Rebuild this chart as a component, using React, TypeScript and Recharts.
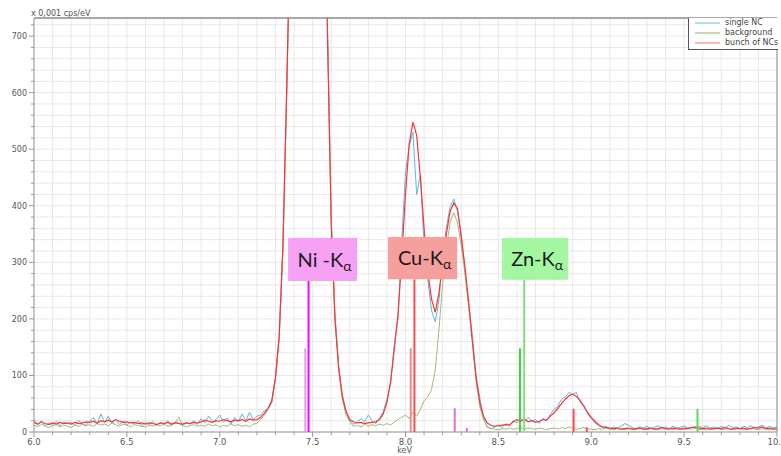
import React from 'react';
import {
  LineChart,
  Line,
  XAxis,
  YAxis,
  CartesianGrid,
  ReferenceLine,
  ReferenceArea,
  Legend
} from 'recharts';

// channel energies, keV
const energy = [
  6.0, 6.02, 6.04, 6.06, 6.08, 6.1, 6.12, 6.14, 6.16, 6.18,
  6.2, 6.22, 6.24, 6.26, 6.28, 6.3, 6.32, 6.34, 6.36, 6.38,
  6.4, 6.42, 6.44, 6.46, 6.48, 6.5, 6.52, 6.54, 6.56, 6.58,
  6.6, 6.62, 6.64, 6.66, 6.68, 6.7, 6.72, 6.74, 6.76, 6.78,
  6.8, 6.82, 6.84, 6.86, 6.88, 6.9, 6.92, 6.94, 6.96, 6.98,
  7.0, 7.02, 7.04, 7.06, 7.08, 7.1, 7.12, 7.14, 7.16, 7.18,
  7.2, 7.22, 7.24, 7.26, 7.28, 7.3, 7.32, 7.34, 7.36, 7.38,
  7.4, 7.42, 7.44, 7.46, 7.48, 7.5, 7.52, 7.54, 7.56, 7.58,
  7.6, 7.62, 7.64, 7.66, 7.68, 7.7, 7.72, 7.74, 7.76, 7.78,
  7.8, 7.82, 7.84, 7.86, 7.88, 7.9, 7.92, 7.94, 7.96, 7.98,
  8.0, 8.02, 8.04, 8.06, 8.08, 8.1, 8.12, 8.14, 8.16, 8.18,
  8.2, 8.22, 8.24, 8.26, 8.28, 8.3, 8.32, 8.34, 8.36, 8.38,
  8.4, 8.42, 8.44, 8.46, 8.48, 8.5, 8.52, 8.54, 8.56, 8.58,
  8.6, 8.62, 8.64, 8.66, 8.68, 8.7, 8.72, 8.74, 8.76, 8.78,
  8.8, 8.82, 8.84, 8.86, 8.88, 8.9, 8.92, 8.94, 8.96, 8.98,
  9.0, 9.02, 9.04, 9.06, 9.08, 9.1, 9.12, 9.14, 9.16, 9.18,
  9.2, 9.22, 9.24, 9.26, 9.28, 9.3, 9.32, 9.34, 9.36, 9.38,
  9.4, 9.42, 9.44, 9.46, 9.48, 9.5, 9.52, 9.54, 9.56, 9.58,
  9.6, 9.62, 9.64, 9.66, 9.68, 9.7, 9.72, 9.74, 9.76, 9.78,
  9.8, 9.82, 9.84, 9.86, 9.88, 9.9, 9.92, 9.94, 9.96, 9.98,
  10.0
];

// x 0,001 cps/eV
const singleNC = [
  22, 12, 20, 10, 16, 13, 19, 11, 18, 14,
  17, 11, 20, 14, 12, 19, 26, 14, 32, 17,
  28, 15, 22, 13, 19, 12, 18, 14, 20, 11,
  17, 13, 19, 12, 16, 14, 20, 12, 18, 15,
  11, 17, 14, 20, 13, 24, 16, 28, 18, 22,
  30, 17, 25, 14, 26, 18, 32, 20, 35, 22,
  28, 30, 38, 40, 52, 95, 165, 320, 590, 890,
  1290, 1690, 2080, 2390, 2540, 2390, 2090, 1690, 1140, 720,
  380, 210, 118, 66, 38, 20, 14, 17, 24, 18,
  30, 19, 15, 24, 36, 58, 85, 155, 200, 340,
  460, 505, 530, 420, 455, 330, 270, 215, 195, 232,
  310, 362, 398, 412, 390, 350, 285, 225, 170, 100,
  60, 25, 8, 6, 9, 12, 8, 15, 11, 20,
  16, 24, 18, 26, 20, 22, 15, 24, 20, 32,
  40, 46, 58, 62, 70, 66, 70, 52, 48, 32,
  24, 16, 11, 8, 10, 6, 9, 7, 10, 15,
  12, 8, 6, 9, 7, 10, 6, 8, 11, 7,
  9, 6, 10, 7, 8, 11, 7, 9, 6, 10,
  8, 11, 7, 9, 6, 10, 7, 12, 8, 9,
  6, 10, 8, 11, 7, 9, 12, 7, 10, 8,
  9
];

const background = [
  12, 9, 14, 10, 8, 11, 13, 9, 12, 10,
  8, 12, 10, 14, 11, 13, 10, 15, 12, 14,
  11, 16, 13, 10, 14, 12, 9, 13, 11, 10,
  9, 12, 10, 13, 11, 14, 10, 12, 16, 26,
  12, 9, 11, 13, 10, 12, 10, 14, 11, 13,
  9, 12, 10, 14, 11, 13, 10, 12, 9, 14,
  15, 22, 30, 40, 54, 95, 168, 325, 595, 890,
  1290, 1690, 2090, 2390, 2540, 2390, 2090, 1690, 1140, 710,
  375, 205, 115, 58, 30, 18, 10, 12, 9, 14,
  10, 13, 11, 14, 12, 15, 12, 18, 22, 26,
  30, 24, 35, 28, 40, 55, 62, 75, 110, 180,
  262, 325, 370, 388, 370, 330, 280, 222, 160, 90,
  45, 22, 10, 6, 5, 4, 6, 5, 7, 5,
  6, 8, 5, 7, 6, 5, 7, 6, 4, 6,
  7, 5, 8, 6, 9, 7, 5, 6, 8, 6,
  5, 4, 6, 5, 7, 5, 4, 6, 5, 4,
  6, 5, 4, 7, 5, 4, 6, 5, 4, 6,
  5, 7, 4, 6, 5, 4, 6, 5, 7, 4,
  5, 4, 6, 5, 7, 4, 5, 6, 4, 5,
  6, 4, 5, 7, 5, 4, 6, 5, 4, 6,
  5
];

const bunchNCs = [
  17, 14, 18, 15, 13, 16, 14, 17, 15, 16,
  14, 17, 15, 16, 18, 17, 19, 16, 20, 18,
  21, 18, 22, 19, 17, 18, 16, 17, 15, 16,
  14, 16, 15, 13, 16, 15, 17, 14, 16, 15,
  14, 16, 15, 17, 16, 18, 21, 19, 17, 20,
  19, 22, 20, 18, 21, 20, 22, 19, 23, 21,
  22, 26, 33, 42, 55, 97, 170, 330, 600, 900,
  1300, 1700, 2100, 2400, 2550, 2400, 2100, 1700, 1150, 700,
  370, 200, 112, 62, 36, 22, 18, 16, 17, 15,
  16, 17, 18, 22, 32, 52, 90, 148, 210, 310,
  420, 510, 548, 525, 450, 360, 285, 235, 212, 245,
  300, 350, 390, 405, 395, 345, 292, 230, 160, 95,
  52, 28, 16, 12, 10, 11, 12, 13, 12, 18,
  22, 19, 23, 18, 20, 17, 19, 22, 21, 28,
  34, 42, 50, 58, 64, 67, 63, 56, 45, 35,
  26, 19, 13, 9, 8, 7, 6, 7, 5, 6,
  7, 5, 6, 7, 5, 6, 7, 5, 6, 8,
  6, 5, 7, 6, 5, 7, 6, 8, 9, 7,
  6, 7, 5, 6, 7, 6, 8, 6, 5, 7,
  6, 7, 5, 6, 8, 7, 9, 6, 7, 5,
  6
];

const xTicks = [
  6.0, 6.1, 6.2, 6.3, 6.4, 6.5, 6.6, 6.7, 6.8, 6.9,
  7.0, 7.1, 7.2, 7.3, 7.4, 7.5, 7.6, 7.7, 7.8, 7.9,
  8.0, 8.1, 8.2, 8.3, 8.4, 8.5, 8.6, 8.7, 8.8, 8.9,
  9.0, 9.1, 9.2, 9.3, 9.4, 9.5, 9.6, 9.7, 9.8, 9.9, 10.0
];
const yTicks = [
  0, 20, 40, 60, 80, 100, 120, 140, 160, 180, 200, 220, 240, 260, 280,
  300, 320, 340, 360, 380, 400, 420, 440, 460, 480, 500, 520, 540, 560,
  580, 600, 620, 640, 660, 680, 700, 720
];

// element lines: energy (keV) and marker height
const lineKeV = [7.478, 7.461, 8.048, 8.028, 8.639, 8.616, 8.265, 8.33, 8.905, 8.976, 9.572];
const lineHeight = [267, 148, 270, 148, 269, 148, 42, 7, 41, 8, 41];
const lineColors = ['#ff00ff', '#d9a0e4', '#ff4b4b', '#e98d88', '#7fe07f', '#45c845', '#e070e0', '#e070e0', '#ff4b4b', '#ff4b4b', '#5cd65c'];

// peak label boxes
const peakNames = ['Ni -K', 'Cu-K', 'Zn-K'];
const boxFrom = [7.368, 7.906, 8.52];
const boxTo = [7.739, 8.278, 8.876];
const boxLow = [267, 270, 269];
const boxHigh = [343, 345, 343];
const boxColors = ['#f7a1f5', '#f6a09d', '#a3f7a1'];

const series = [
  { key: 'single', name: 'single NC', color: '#5fb8da', legend: '#9dd5ea', width: 1 },
  { key: 'background', name: 'background', color: '#a9b67a', legend: '#bccb99', width: 1 },
  { key: 'bunch', name: 'bunch of NCs', color: '#ff3333', legend: '#ff9c9c', width: 1.2 }
];

const data = energy.map((keV, i) => ({
  keV,
  single: singleNC[i],
  background: background[i],
  bunch: bunchNCs[i]
}));

const FONT = '"DejaVu Sans", Verdana, sans-serif';

const XTick = ({ x, y, payload }: any) => {
  const v = payload.value;
  const major = Math.abs(v * 2 - Math.round(v * 2)) < 1e-6;
  return (
    <g>
      <line x1={x} x2={x} y1={y} y2={y + (major ? 5 : 3)} stroke="#999" />
      {major && (
        <text x={x} y={y + 12.5} textAnchor="middle" fontSize={8.5} fontFamily={FONT} fill="#555">
          {v.toFixed(1)}
        </text>
      )}
    </g>
  );
};

const YTick = ({ x, y, payload }: any) => {
  const v = payload.value;
  const major = v % 100 === 0;
  return (
    <g>
      <line x1={x - (major ? 5 : 3)} x2={x} y1={y} y2={y} stroke="#999" />
      {major && (
        <text x={x - 7} y={y + 3} textAnchor="end" fontSize={8} fontFamily={FONT} fill="#555">
          {v}
        </text>
      )}
    </g>
  );
};

const LegendBox = () => (
  <div
    style={{
      width: 90,
      height: 32,
      background: '#fff',
      borderLeft: '1px solid #555',
      borderBottom: '1px solid #555',
      boxSizing: 'border-box',
      fontFamily: FONT,
      fontSize: 8,
      color: '#444'
    }}
  >
    {series.map((s) => (
      <div key={s.key} style={{ height: 10, display: 'flex', alignItems: 'center' }}>
        <svg width={36} height={10} style={{ flex: 'none' }}>
          <line x1={6} x2={31} y1={5} y2={5} stroke={s.legend} strokeWidth={1.5} />
        </svg>
        <span style={{ whiteSpace: 'nowrap', lineHeight: '10px' }}>{s.name}</span>
      </div>
    ))}
  </div>
);

const boxLabel = (text: string) => (props: any) => {
  const { x, y, width, height } = props.viewBox;
  return (
    <text
      x={x + width / 2 + 2}
      y={y + height / 2 + 7}
      textAnchor="middle"
      fontFamily="Lato, 'Open Sans', sans-serif"
      fontSize={20}
      fill="#1a1a1a"
    >
      {text}
      <tspan fontSize={14} dy={4}>α</tspan>
    </text>
  );
};

export default function App() {
  return (
    <div style={{ position: 'absolute', left: 0, top: 0, width: 781, height: 456, background: '#fff' }}>
      <LineChart width={781} height={456} data={data} margin={{ top: 18, right: 4, bottom: 0, left: 0 }}>
        <CartesianGrid stroke="#e8e8e8" />
        <XAxis
          dataKey="keV"
          type="number"
          domain={[6, 10]}
          ticks={xTicks}
          interval={0}
          height={24}
          stroke="#999"
          tickSize={0}
          tickMargin={0}
          tickLine={false}
          tick={<XTick />}
          label={{
            content: (p: any) => (
              <text
                x={p.viewBox.x + p.viewBox.width / 2 - 1}
                y={p.viewBox.y + 21}
                textAnchor="middle"
                fontSize={8}
                fontFamily={FONT}
                fill="#555"
              >
                keV
              </text>
            )
          }}
        />
        <YAxis
          type="number"
          domain={[0, 732]}
          allowDataOverflow
          ticks={yTicks}
          interval={0}
          width={34}
          stroke="#999"
          tickSize={0}
          tickMargin={0}
          tickLine={false}
          tick={<YTick />}
          label={{
            content: (p: any) => (
              <text x={p.viewBox.x + 31} y={p.viewBox.y - 2} fontSize={8} fontFamily={FONT} fill="#555">
                x 0,001 cps/eV
              </text>
            )
          }}
        />
        <Legend
          layout="vertical"
          align="center"
          verticalAlign="middle"
          wrapperStyle={{ position: 'absolute', top: 18, left: 688, width: 90, height: 32 }}
          content={<LegendBox />}
        />

        {series.map((s) => (
          <Line
            key={s.key}
            type="linear"
            dataKey={s.key}
            name={s.name}
            stroke={s.color}
            strokeWidth={s.width}
            dot={false}
            activeDot={false}
            isAnimationActive={false}
          />
        ))}

        {lineKeV.map((e, i) => (
          <ReferenceLine
            key={'l' + i}
            segment={[{ x: e, y: 0 }, { x: e, y: lineHeight[i] }]}
            stroke={lineColors[i]}
            strokeWidth={2}
            zIndex={1500}
          />
        ))}

        {peakNames.map((n, i) => (
          <ReferenceArea
            key={'b' + i}
            x1={boxFrom[i]}
            x2={boxTo[i]}
            y1={boxLow[i]}
            y2={boxHigh[i]}
            fill={boxColors[i]}
            fillOpacity={1}
            stroke="none"
            zIndex={1500}
            label={boxLabel(n)}
          />
        ))}

        <ReferenceLine y={732} stroke="#8f8f8f" strokeWidth={1.5} />
        <ReferenceLine x={10} stroke="#8f8f8f" strokeWidth={1} />
      </LineChart>
    </div>
  );
}
